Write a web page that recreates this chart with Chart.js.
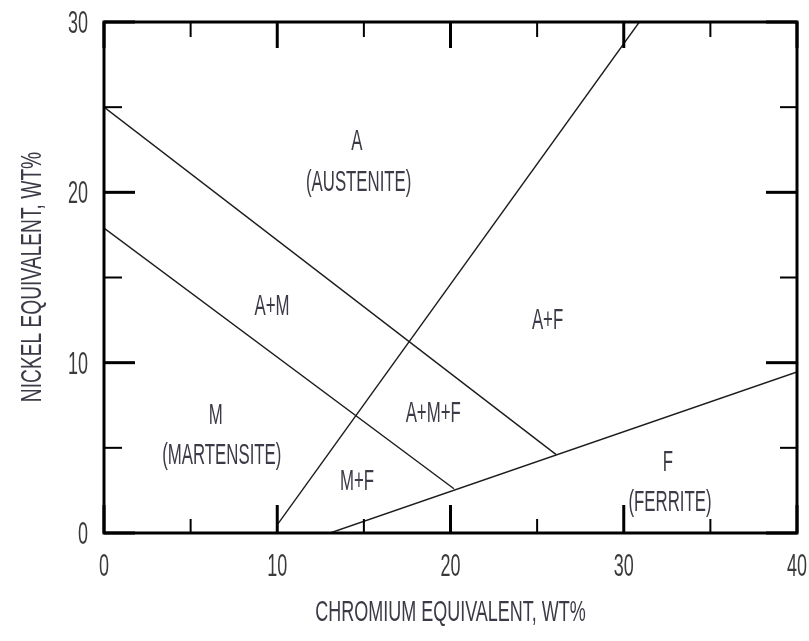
<!DOCTYPE html>
<html>
<head>
<meta charset="utf-8">
<script src="https://cdn.jsdelivr.net/npm/chart.js@4/dist/chart.umd.min.js"></script>
<style>
  html, body { margin: 0; padding: 0; background: #fff; }
  #wrap { width: 809px; height: 641px; }
</style>
</head>
<body>
<div id="wrap"><canvas id="chart"></canvas></div>
<script>
// Phase boundaries of the diagram, as (chromium eq., nickel eq.) in wt%.
const austeniteEdge = [{ x: 0, y: 25.0 }, { x: 26.1, y: 4.6 }];
const martensiteEdge = [{ x: 0, y: 17.9 }, { x: 20.2, y: 2.6 }];
const ferriteStartEdge = [{ x: 10.05, y: 0.55 }, { x: 30.9, y: 30 }];
const ferriteEdge = [{ x: 13.05, y: 0 }, { x: 40, y: 9.45 }];

// Axis ticks.
const xMajorTicks = [0, 10, 20, 30, 40];
const xMinorTicks = [5, 15, 25, 35];
const yMajorTicks = [0, 10, 20, 30];
const yMinorTicks = [5, 15, 25];

// Phase field names, placed in data units.
const phaseLabels = [
  { text: 'A', x: 14.6, y: 23.1 },
  { text: '(AUSTENITE)', x: 14.7, y: 20.7 },
  { text: 'A+M', x: 9.7, y: 13.45 },
  { text: 'A+F', x: 25.6, y: 12.6 },
  { text: 'M', x: 6.45, y: 7.05 },
  { text: '(MARTENSITE)', x: 6.8, y: 4.7 },
  { text: 'A+M+F', x: 19.0, y: 7.13 },
  { text: 'M+F', x: 14.6, y: 3.17 },
  { text: 'F', x: 32.55, y: 4.3 },
  { text: '(FERRITE)', x: 32.67, y: 1.9 }
];

const xTitle = 'CHROMIUM EQUIVALENT, WT%';
const yTitle = 'NICKEL EQUIVALENT, WT%';

const FONT = "'Liberation Sans', Arial, sans-serif";

// Draws text narrowed horizontally so it reads like a condensed drafting face.
function narrowText(ctx, text, x, y, size, squeeze, align) {
  ctx.save();
  ctx.translate(x, y);
  ctx.scale(squeeze, 1);
  ctx.font = `${size}px ${FONT}`;
  ctx.textAlign = align || 'center';
  ctx.textBaseline = 'alphabetic';
  // baseline shifted so the capitals are centred on y
  ctx.fillText(text, 0, size * 0.36);
  ctx.restore();
}

// Frame, inward ticks, tick labels, titles and phase names.
const framePlugin = {
  id: 'diagram-frame',
  afterDatasetsDraw(chart) {
    const { ctx, chartArea } = chart;
    const { left, right, top, bottom } = chartArea;
    const x = chart.scales.x;
    const y = chart.scales.y;

    ctx.save();
    ctx.strokeStyle = '#000';
    ctx.lineCap = 'butt';

    const tick = (x1, y1, x2, y2, w) => {
      ctx.lineWidth = w;
      ctx.beginPath();
      ctx.moveTo(x1, y1);
      ctx.lineTo(x2, y2);
      ctx.stroke();
    };

    xMajorTicks.forEach((v) => {
      const px = x.getPixelForValue(v);
      tick(px, bottom, px, bottom - 28, 3);
      tick(px, top, px, top + 26, 3);
    });
    xMinorTicks.forEach((v) => {
      const px = x.getPixelForValue(v);
      tick(px, bottom, px, bottom - 14, 2);
      tick(px, top, px, top + 15, 2);
    });
    yMajorTicks.forEach((v) => {
      const py = y.getPixelForValue(v);
      tick(left, py, left + 31, py, 3);
      tick(right, py, right - 31, py, 3);
    });
    yMinorTicks.forEach((v) => {
      const py = y.getPixelForValue(v);
      tick(left, py, left + 18, py, 2);
      tick(right, py, right - 17, py, 2);
    });

    ctx.lineWidth = 3;
    ctx.strokeRect(left, top, right - left, bottom - top);

    ctx.fillStyle = '#3a3a3a';
    xMajorTicks.forEach((v) => {
      narrowText(ctx, String(v), x.getPixelForValue(v), 565, 31, 0.58, 'center');
    });
    yMajorTicks.forEach((v) => {
      narrowText(ctx, String(v), 88, y.getPixelForValue(v), 31, 0.58, 'right');
    });

    ctx.fillStyle = '#3b3a46';
    narrowText(ctx, xTitle, (left + right) / 2, 610, 30, 0.6, 'center');

    ctx.save();
    ctx.translate(30, 277);
    ctx.rotate(-Math.PI / 2);
    narrowText(ctx, yTitle, 0, 0, 30, 0.64, 'center');
    ctx.restore();

    phaseLabels.forEach((d) => {
      narrowText(ctx, d.text, x.getPixelForValue(d.x), y.getPixelForValue(d.y), 30, 0.56, 'center');
    });

    ctx.restore();
  }
};

const boundary = (data) => ({
  data,
  showLine: true,
  borderColor: '#1c1c1c',
  borderWidth: 1.4,
  pointRadius: 0,
  fill: false
});

new Chart(document.getElementById('chart'), {
  type: 'scatter',
  data: {
    datasets: [
      boundary(austeniteEdge),
      boundary(martensiteEdge),
      boundary(ferriteStartEdge),
      boundary(ferriteEdge)
    ]
  },
  options: {
    responsive: true,
    maintainAspectRatio: false,
    animation: false,
    layout: { padding: { left: 104, right: 12, top: 22, bottom: 108 } },
    plugins: { legend: { display: false }, tooltip: { enabled: false } },
    scales: {
      x: { type: 'linear', min: 0, max: 40, display: false },
      y: { type: 'linear', min: 0, max: 30, display: false }
    }
  },
  plugins: [framePlugin]
});
</script>
</body>
</html>
